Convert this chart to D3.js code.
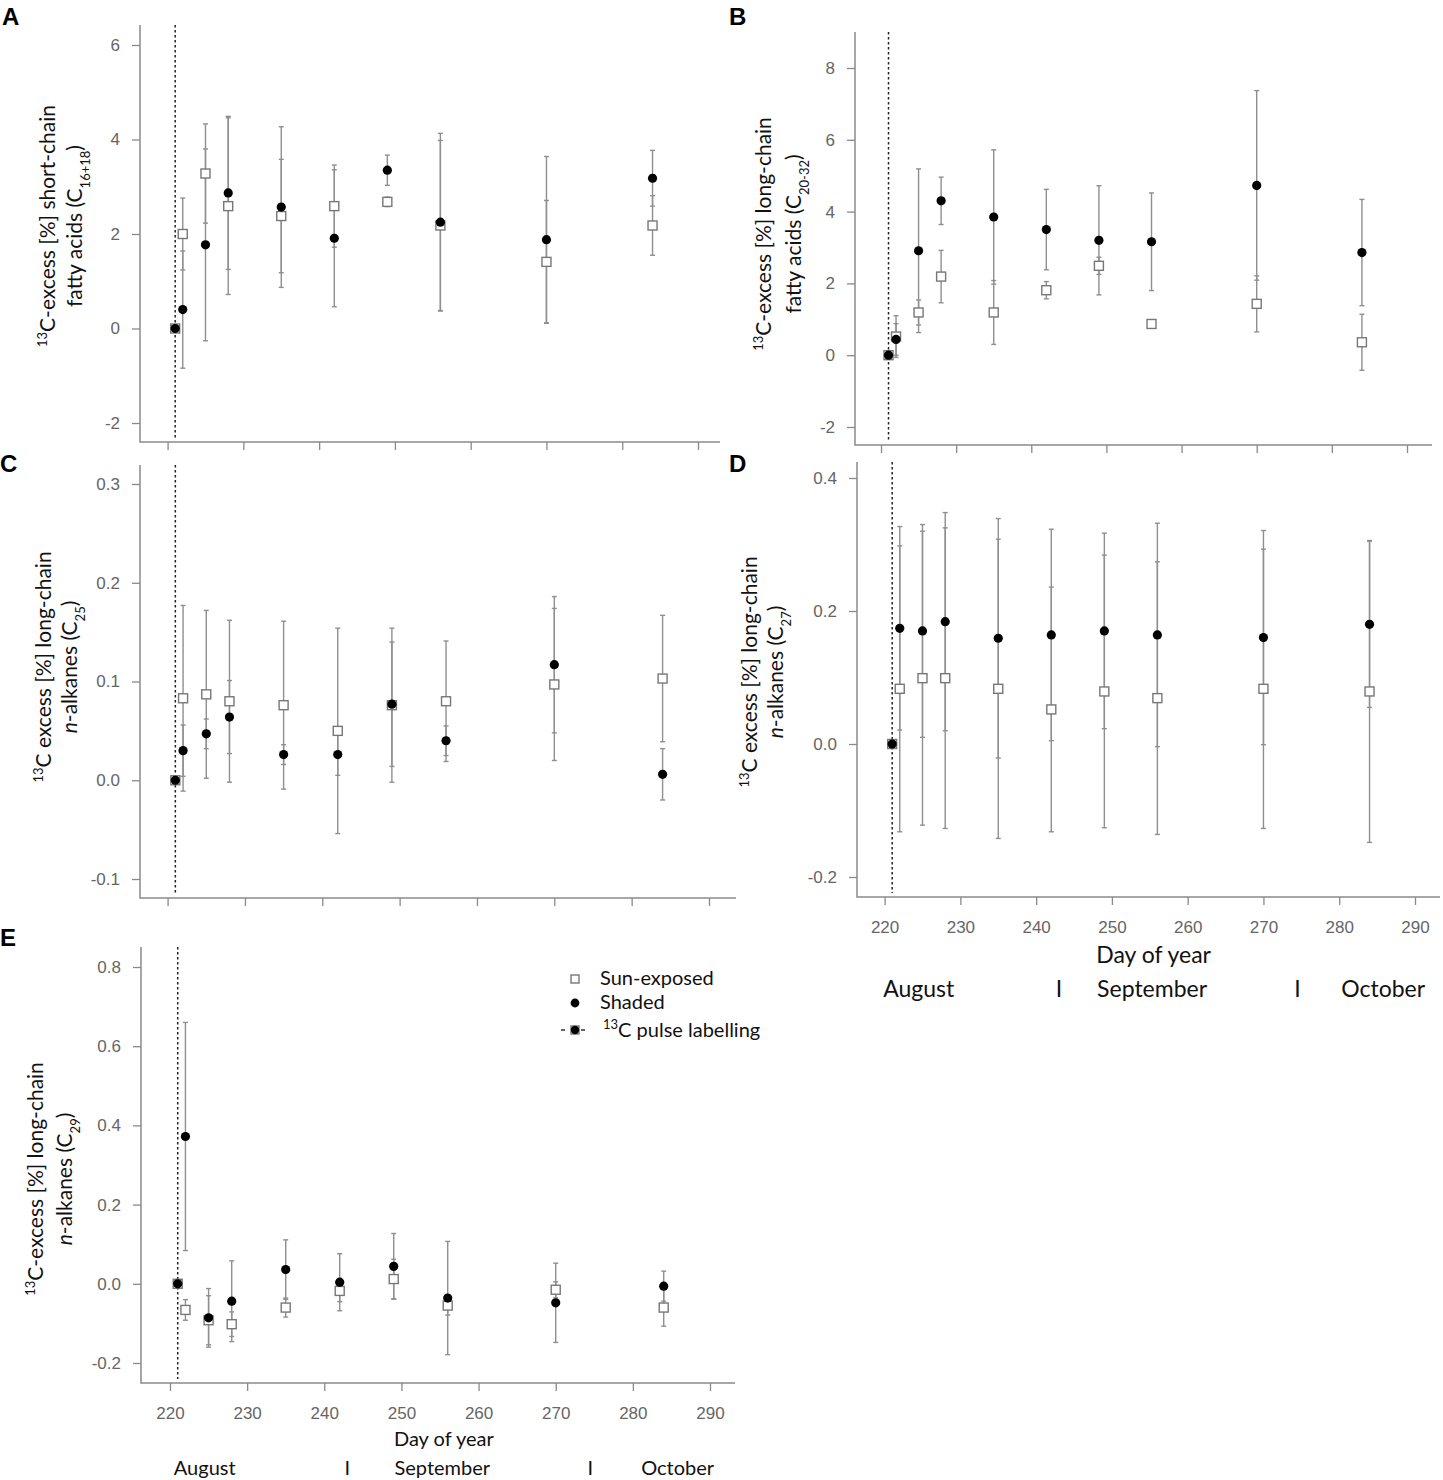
<!DOCTYPE html>
<meta charset="utf-8">
<style>
  body { margin: 0; background: #fff; }
  .tick text { font: 17px "Liberation Sans", Arial, sans-serif; fill: #666; }
  .tick line { stroke: #8a8a8a; stroke-width: 1.3; }
  .axisline { stroke: #8a8a8a; stroke-width: 1.5; fill: none; }
  .lab { font-family: Lato, "Open Sans", sans-serif; fill: #111; }
  .letter { font: bold 24px "Liberation Sans", Arial, sans-serif; fill: #000; }
  .err { stroke: #8f8f8f; stroke-width: 1.4; }
  .pulse { stroke: #222; stroke-width: 1.5; stroke-dasharray: 2.5, 2.5; }
</style>
<svg width="1443" height="1480"></svg>
<script src="https://d3js.org/d3.v7.min.js"></script>
<script>

    // sampling days (day of year) and the 13C pulse
    var days = [221, 222, 225, 228, 235, 242, 249, 256, 270, 284];
    var xTicks = [220, 230, 240, 250, 260, 270, 280, 290];
    var pulseDay = 221;
    var months = ["August", "September", "October"];
    var monthCentres = [224.5, 255.3, 285.8];
    var monthBreaks = [243, 274.5];

    // A: short-chain fatty acids
    var sunA      = [0, 2.00, 3.28, 2.59, 2.38, 2.59, 2.68, 2.18, 1.41, 2.18];
    var sunAErr   = [0, 0.76, 1.05, 1.87, 1.20, 0.87, 0.10, 1.80, 1.30, 0.63];
    var shadeA    = [0, 0.40, 1.77, 2.87, 2.57, 1.91, 3.35, 2.25, 1.88, 3.18];
    var shadeAErr = [0, 1.24, 2.03, 1.62, 1.70, 1.45, 0.32, 1.88, 1.76, 0.59];
    var yTicksA = [-2, 0, 2, 4, 6];

    // B: long-chain fatty acids
    var sunB      = [0, 0.52, 1.19, 2.19, 1.19, 1.81, 2.49, 0.87, 1.43, 0.36];
    var sunBErr   = [0, 0.58, 0.35, 0.73, 0.89, 0.24, 0.24, 0.10, 0.78, 0.78];
    var shadeB    = [0, 0.44, 2.91, 4.30, 3.85, 3.50, 3.20, 3.16, 4.73, 2.86];
    var shadeBErr = [0, 0.44, 2.28, 0.66, 1.87, 1.12, 1.52, 1.36, 2.64, 1.48];
    var yTicksB = [-2, 0, 2, 4, 6, 8];

    // C: n-alkane C25
    var sunC      = [0, 0.083, 0.087, 0.080, 0.076, 0.050, 0.076, 0.080, 0.097, 0.103];
    var sunCErr   = [0, 0.094, 0.085, 0.082, 0.085, 0.104, 0.078, 0.061, 0.077, 0.064];
    var shadeC    = [0, 0.030, 0.047, 0.064, 0.026, 0.026, 0.077, 0.040, 0.117, 0.006];
    var shadeCErr = [0, 0.026, 0.015, 0.037, 0.010, 0.021, 0.063, 0.015, 0.069, 0.026];
    var yTicksC = [-0.1, 0, 0.1, 0.2, 0.3];

    // D: n-alkane C27
    var sunD      = [0, 0.083, 0.099, 0.099, 0.083, 0.052, 0.079, 0.069, 0.083, 0.079];
    var sunDErr   = [0, 0.215, 0.221, 0.226, 0.225, 0.184, 0.205, 0.205, 0.210, 0.227];
    var shadeD    = [0, 0.174, 0.170, 0.184, 0.159, 0.164, 0.170, 0.164, 0.160, 0.180];
    var shadeDErr = [0, 0.153, 0.160, 0.164, 0.180, 0.159, 0.147, 0.168, 0.161, 0.125];
    var yTicksD = [-0.2, 0, 0.2, 0.4];

    // E: n-alkane C29
    var sunE      = [0, -0.066, -0.092, -0.102, -0.060, -0.018, 0.012, -0.055, -0.015, -0.060];
    var sunEErr   = [0, 0.026, 0.062, 0.031, 0.024, 0.027, 0.050, 0.024, 0.020, 0.047];
    var shadeE    = [0, 0.372, -0.086, -0.044, 0.036, 0.004, 0.044, -0.036, -0.048, -0.006];
    var shadeEErr = [0, 0.288, 0.074, 0.102, 0.075, 0.072, 0.083, 0.143, 0.100, 0.038];
    var yTicksE = [-0.2, 0, 0.2, 0.4, 0.6, 0.8];

    var int = function (d) { return String(d); },
        one = function (d) { return d.toFixed(1); };

    var panels = [
        {id: "A", sun: sunA, sunErr: sunAErr, shade: shadeA, shadeErr: shadeAErr, ticks: yTicksA, fmt: int,
         left: 140, top: 25, bottom: 442, right: 720, xr: [167.6, 698], yr: [423, 45],
         lab: [55, 82, 226], l1: "C-excess [%] short-chain", l2: ["fatty acids (C", "16+18", ")"], ital: false, xlab: false},
        {id: "B", sun: sunB, sunErr: sunBErr, shade: shadeB, shadeErr: shadeBErr, ticks: yTicksB, fmt: int,
         left: 855, top: 32, bottom: 445, right: 1432, xr: [881, 1407], yr: [427, 68],
         lab: [771, 801, 234], l1: "C-excess [%] long-chain", l2: ["fatty acids (C", "20-32", ")"], ital: false, xlab: false},
        {id: "C", sun: sunC, sunErr: sunCErr, shade: shadeC, shadeErr: shadeCErr, ticks: yTicksC, fmt: one,
         left: 140, top: 465, bottom: 898, right: 736, xr: [167.6, 709], yr: [879, 484],
         lab: [51, 77, 667], l1: "C excess [%] long-chain", l2: ["-alkanes (C", "25", ")"], ital: true, xlab: false},
        {id: "D", sun: sunD, sunErr: sunDErr, shade: shadeD, shadeErr: shadeDErr, ticks: yTicksD, fmt: one,
         left: 857, top: 462, bottom: 897, right: 1440, xr: [884.6, 1415], yr: [877, 478],
         lab: [757, 783, 672], l1: "C excess [%] long-chain", l2: ["-alkanes (C", "27", ")"], ital: true, xlab: 23,
         xlabY: 963, monY: 997},
        {id: "E", sun: sunE, sunErr: sunEErr, shade: shadeE, shadeErr: shadeEErr, ticks: yTicksE, fmt: one,
         left: 141, top: 947, bottom: 1383, right: 735, xr: [170, 710], yr: [1363, 967],
         lab: [43, 72, 1179], l1: "C-excess [%] long-chain", l2: ["-alkanes (C", "29", ")"], ital: true, xlab: 20,
         xlabY: 1446, monY: 1475}
    ];

    var letterPos = {A: [2, 25], B: [729, 25], C: [0, 472], D: [729, 472], E: [0, 946]};

    var svg = d3.select("svg");

    panels.forEach(function (p) {
        var g = svg.append("g");
        var x = d3.scaleLinear().domain([220, 290]).range(p.xr);
        var y = d3.scaleLinear().domain([p.ticks[0], p.ticks[p.ticks.length - 1]]).range(p.yr);

        // axes
        g.append("path").attr("class", "axisline")
            .attr("d", "M" + p.left + "," + p.top + "V" + p.bottom + "H" + p.right);

        var ya = g.append("g").attr("transform", "translate(" + p.left + ",0)")
            .call(d3.axisLeft(y).tickValues(p.ticks).tickFormat(p.fmt).tickSize(8).tickPadding(12).tickSizeOuter(0));
        ya.select(".domain").remove();

        var xa = g.append("g").attr("transform", "translate(0," + p.bottom + ")")
            .call(d3.axisBottom(x).tickValues(xTicks).tickSize(8).tickPadding(16).tickSizeOuter(0)
                .tickFormat(p.xlab ? function (d) { return d; } : ""));
        xa.select(".domain").remove();

        // pulse labelling line
        g.append("line").attr("class", "pulse")
            .attr("x1", x(pulseDay)).attr("x2", x(pulseDay))
            .attr("y1", p.top).attr("y2", p.bottom - 4);

        // error bars for both series
        [[p.sun, p.sunErr], [p.shade, p.shadeErr]].forEach(function (s) {
            var eb = g.append("g").selectAll("g").data(days).enter().append("g")
                .filter(function (d, i) { return s[1][i] > 0; });
            eb.append("line").attr("class", "err")
                .attr("x1", function (d) { return x(d); }).attr("x2", function (d) { return x(d); })
                .attr("y1", function (d) { var i = days.indexOf(d); return y(s[0][i] + s[1][i]); })
                .attr("y2", function (d) { var i = days.indexOf(d); return y(s[0][i] - s[1][i]); });
            [1, -1].forEach(function (sg) {
                eb.append("line").attr("class", "err")
                    .attr("x1", function (d) { return x(d) - 2.5; }).attr("x2", function (d) { return x(d) + 2.5; })
                    .attr("y1", function (d) { var i = days.indexOf(d); return y(s[0][i] + sg * s[1][i]); })
                    .attr("y2", function (d) { var i = days.indexOf(d); return y(s[0][i] + sg * s[1][i]); });
            });
        });

        g.append("g").selectAll("rect").data(days).enter().append("rect")
            .attr("x", function (d) { return x(d) - 4.5; })
            .attr("y", function (d, i) { return y(p.sun[i]) - 4.5; })
            .attr("width", 9).attr("height", 9)
            .attr("fill", "#fff").attr("stroke", "#777").attr("stroke-width", 1.4);

        g.append("g").selectAll("circle").data(days).enter().append("circle")
            .attr("cx", function (d) { return x(d); })
            .attr("cy", function (d, i) { return y(p.shade[i]); })
            .attr("r", 4.6).attr("fill", "#000");

        // y label, two rotated lines
        var l1 = g.append("text").attr("class", "lab").attr("font-size", 21)
            .attr("text-anchor", "middle")
            .attr("transform", "translate(" + p.lab[0] + "," + p.lab[2] + ") rotate(-90)");
        l1.append("tspan").attr("baseline-shift", "super").attr("font-size", 13).text("13");
        l1.append("tspan").text(p.l1);

        var l2 = g.append("text").attr("class", "lab").attr("font-size", 21)
            .attr("text-anchor", "middle")
            .attr("transform", "translate(" + p.lab[1] + "," + p.lab[2] + ") rotate(-90)");
        if (p.ital) l2.append("tspan").attr("font-style", "italic").text("n");
        l2.append("tspan").text(p.l2[0]);
        l2.append("tspan").attr("baseline-shift", "sub").attr("font-size", 13).text(p.l2[1]);
        l2.append("tspan").text(p.l2[2]);

        if (p.xlab) {
            g.append("text").attr("class", "lab").attr("font-size", p.xlab)
                .attr("text-anchor", "middle").attr("x", x(255.5)).attr("y", p.xlabY)
                .text("Day of year");
            g.append("g").selectAll("text").data(months).enter().append("text")
                .attr("class", "lab").attr("font-size", p.xlab).attr("text-anchor", "middle")
                .attr("x", function (d, i) { return x(monthCentres[i]); })
                .attr("y", p.monY).text(function (d) { return d; });
            g.append("g").selectAll("text").data(monthBreaks).enter().append("text")
                .attr("class", "lab").attr("font-size", p.xlab).attr("text-anchor", "middle")
                .attr("x", function (d) { return x(d); })
                .attr("y", p.monY).text("I");
        }

        svg.append("text").attr("class", "letter")
            .attr("x", letterPos[p.id][0]).attr("y", letterPos[p.id][1]).text(p.id);
    });

    // legend (panel E)
    var lg = svg.append("g").attr("transform", "translate(575,0)");
    lg.append("rect").attr("x", -4).attr("y", 975).attr("width", 8).attr("height", 8)
        .attr("fill", "#fff").attr("stroke", "#777").attr("stroke-width", 1.4);
    lg.append("text").attr("class", "lab").attr("font-size", 20).attr("x", 25).attr("y", 985).text("Sun-exposed");
    lg.append("circle").attr("cx", 0).attr("cy", 1003).attr("r", 4.4).attr("fill", "#000");
    lg.append("text").attr("class", "lab").attr("font-size", 20).attr("x", 25).attr("y", 1009).text("Shaded");
    lg.append("line").attr("x1", -14).attr("x2", 14).attr("y1", 1030).attr("y2", 1030)
        .attr("stroke", "#333").attr("stroke-width", 1.5).attr("stroke-dasharray", "4,6");
    lg.append("rect").attr("x", -4).attr("y", 1026).attr("width", 8).attr("height", 8)
        .attr("fill", "#fff").attr("stroke", "#777").attr("stroke-width", 1.4);
    lg.append("circle").attr("cx", 0).attr("cy", 1030).attr("r", 4.2).attr("fill", "#000");
    var pl = lg.append("text").attr("class", "lab").attr("font-size", 20).attr("x", 28).attr("y", 1037);
    pl.append("tspan").attr("baseline-shift", "super").attr("font-size", 13).text("13");
    pl.append("tspan").text("C pulse labelling");

</script>
